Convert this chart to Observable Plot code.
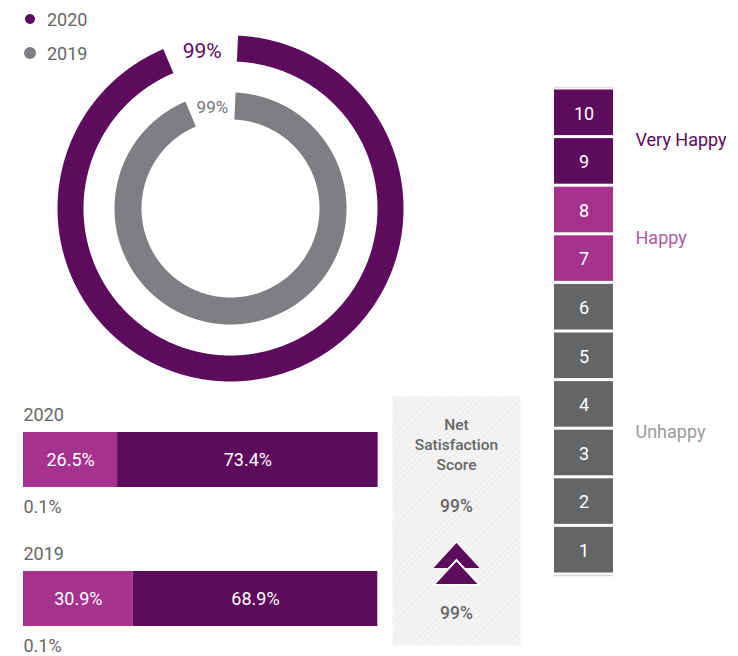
<!DOCTYPE html>
<html><head><meta charset="utf-8">
<script src="https://cdn.jsdelivr.net/npm/d3@7"></script>
<script src="https://cdn.jsdelivr.net/npm/@observablehq/plot@0.6"></script>
<style>
html,body{margin:0;padding:0;background:#fff;}
body{width:738px;height:656px;position:relative;overflow:hidden;font-family:Roboto,"Noto Sans",sans-serif;}
.p{position:absolute;}
.leg{position:absolute;display:flex;align-items:center;font-size:18px;color:#666;}
.leg .dot{border-radius:50%;display:inline-block;}
</style>
</head><body>
<script>
// ---- data ----
const years = ["2020", "2019"];
const yearColors = ["#5c0b5d", "#7e7f83"];
const satisfied = [99, 99];            // donut values (%)
const happyPct = [26.5, 30.9];
const veryHappyPct = [73.4, 68.9];
const unhappyPct = [0.1, 0.1];
const netScore = [99, 99];
const netLabel = "Net\nSatisfaction\nScore";
const scores = [10, 9, 8, 7, 6, 5, 4, 3, 2, 1];
const scoreGroups = ["Very Happy", "Very Happy", "Happy", "Happy", "Unhappy", "Unhappy", "Unhappy", "Unhappy", "Unhappy", "Unhappy"];
const groupNames = ["Very Happy", "Happy", "Unhappy"];
const groupColors = ["#5c0b5d", "#a5328c", "#646567"];
const groupLabelColors = ["#5c0b5d", "#b35aa5", "#9a9a9a"];

const FONT = "Roboto, 'Noto Sans', sans-serif";
const TXT = "#666";

function place(node, left, top) {
  const d = document.createElement("div");
  d.className = "p";
  d.style.left = left + "px";
  d.style.top = top + "px";
  d.appendChild(node);
  document.body.appendChild(d);
  return node;
}

// ---- legend ----
const legTops = [9, 43];
const legR = [5, 6];
years.forEach((y, i) => {
  const el = document.createElement("div");
  el.className = "leg";
  el.style.left = (30 - legR[i]) + "px";
  el.style.top = legTops[i] + "px";
  el.style.height = "20px";
  const dot = document.createElement("span");
  dot.className = "dot";
  dot.style.width = dot.style.height = (2 * legR[i]) + "px";
  dot.style.background = yearColors[i];
  dot.style.marginRight = (17 - legR[i]) + "px";
  el.appendChild(dot);
  el.appendChild(document.createTextNode(y));
  document.body.appendChild(el);
});

// ---- donut rings ----
const ringRadius = [160, 102.5];
const ringWidth = [26, 27];
const ringFont = [21, 17];
const ringTextColor = ["#5c0b5d", "#777"];
const arcStart = 2.5, sweep = 338; // degrees; 100% = full sweep
const deg = Math.PI / 180;
const ringMarks = [];
years.forEach((y, i) => {
  const end = arcStart + satisfied[i] / 100 * sweep;
  const pts = [];
  for (let a = arcStart; a < end; a += 0.5) pts.push(a);
  pts.push(end);
  const r = ringRadius[i];
  ringMarks.push(Plot.line(pts, {
    x: a => r * Math.sin(a * deg), y: a => r * Math.cos(a * deg),
    stroke: yearColors[i], strokeWidth: ringWidth[i], strokeLinecap: "butt", strokeLinejoin: "round", curve: "linear"
  }));
  const mid = (end + 360 + arcStart) / 2;
  ringMarks.push(Plot.text([satisfied[i]], {
    x: () => r * Math.sin(mid * deg), y: () => r * Math.cos(mid * deg),
    text: d => d + "%", fill: ringTextColor[i], fontSize: ringFont[i]
  }));
});
place(Plot.plot({
  width: 380, height: 380, margin: 0,
  style: {fontFamily: FONT, background: "transparent", overflow: "visible"},
  x: {domain: [-190, 190], range: [0, 380], axis: null},
  y: {domain: [-190, 190], range: [380, 0], axis: null},
  marks: ringMarks
}), 40, 18);

// ---- stacked bars ----
const segs = [];
years.forEach((y, i) => {
  segs.push({year: y, seg: "Happy", v: happyPct[i]});
  segs.push({year: y, seg: "Very Happy", v: veryHappyPct[i]});
});
const stackOrder = ["Happy", "Very Happy"];
place(Plot.plot({
  width: 390, height: 266, marginLeft: 23, marginRight: 12, marginTop: 0, marginBottom: 0,
  style: {fontFamily: FONT, background: "transparent", overflow: "visible"},
  x: {domain: [0, 100], axis: null},
  y: {type: "band", domain: years, range: [42, 237], paddingInner: 0.6071, paddingOuter: 0, align: 0, axis: null},
  color: {domain: groupNames, range: groupColors},
  marks: [
    Plot.barX(segs, Plot.stackX({x: "v", y: "year", fill: "seg", z: "seg", order: stackOrder})),
    Plot.text(segs, Plot.stackX({x: "v", y: "year", z: "seg", order: stackOrder, text: d => d.v.toFixed(1) + "%", fill: "white", fontSize: 18})),
    Plot.text(years, {y: d => d, frameAnchor: "left", textAnchor: "start", text: d => d, dy: -45, fill: TXT, fontSize: 18}),
    Plot.text(years, {y: d => d, frameAnchor: "left", textAnchor: "start", text: (d, i) => unhappyPct[i].toFixed(1) + "%", dy: 47, fill: TXT, fontSize: 18})
  ]
}), 0, 390);

// ---- net satisfaction box ----
const chevron = {
  draw(ctx, size) {
    const w = Math.sqrt(size / Math.PI);
    const h = w * 0.54;
    ctx.moveTo(0, -h); ctx.lineTo(w, h); ctx.lineTo(-w, h); ctx.closePath();
  }
};
const netSvg = Plot.plot({
  width: 128, height: 249, margin: 0,
  style: {fontFamily: FONT, background: "transparent", overflow: "visible"},
  marks: [
    Plot.frame({fill: "url(#hatch)", stroke: "none"}),
    Plot.text([netLabel], {frameAnchor: "top", lineAnchor: "top", text: d => d, dy: 19, lineHeight: 1.3, fontSize: 15.5, fontWeight: 500, fill: TXT}),
    Plot.text([netScore[0]], {frameAnchor: "top", lineAnchor: "middle", text: d => d + "%", dy: 110, fontSize: 17.5, fontWeight: 500, fill: TXT}),
    Plot.dot([netScore[0]], {frameAnchor: "top", dy: 159, symbol: chevron, r: 23, fill: "#5c0b5d", stroke: "none"}),
    Plot.dot([netScore[1]], {frameAnchor: "top", dy: 176, symbol: chevron, r: 23, fill: "#5c0b5d", stroke: "white", strokeWidth: 2}),
    Plot.text([netScore[1]], {frameAnchor: "top", lineAnchor: "middle", text: d => d + "%", dy: 217, fontSize: 17.5, fontWeight: 500, fill: TXT})
  ]
});
{
  const svg = d3.select(netSvg);
  const defs = svg.insert("defs", ":first-child");
  const pat = defs.append("pattern").attr("id", "hatch").attr("patternUnits", "userSpaceOnUse")
    .attr("width", 4).attr("height", 4).attr("patternTransform", "rotate(45)");
  pat.append("rect").attr("width", 4).attr("height", 4).attr("fill", "#f4f4f4");
  pat.append("line").attr("x1", 0).attr("y1", 0).attr("x2", 0).attr("y2", 4).attr("stroke", "#e7e7e7").attr("stroke-width", 1.2);
}
place(netSvg, 392, 396);

// ---- score scale ----
place(Plot.plot({
  width: 198, height: 500, margin: 0,
  style: {fontFamily: FONT, background: "transparent", overflow: "visible"},
  x: {domain: [0, 1], range: [14, 73], axis: null},
  y: {domain: [0.5, 10.5], range: [494, 8], axis: null},
  color: {domain: groupNames, range: groupColors},
  marks: [
    Plot.ruleY([10.5], {x1: () => 0, x2: () => 1, stroke: "#ead9e8", strokeWidth: 1.5, dy: -1}),
    Plot.ruleY([0.5], {x1: () => 0, x2: () => 1, stroke: "#d8d8d8", strokeWidth: 1.5, dy: 1}),
    Plot.rect(scores, {x1: () => 0, x2: () => 1, y1: d => d - 0.5, y2: d => d + 0.5, fill: (d, i) => scoreGroups[i], insetTop: 1.5, insetBottom: 1.5}),
    Plot.text(scores, {x: () => 0.5, y: d => d, text: d => String(d), fill: "white", fontSize: 18, dy: 1}),
    ...groupNames.map((g, i) => Plot.text([g], {
      x: () => 1, y: gg => d3.mean(scores.filter((s, j) => scoreGroups[j] === gg)),
      text: d => d, textAnchor: "start", dx: 22, dy: 3.5, fontSize: 18, fill: groupLabelColors[i]
    }))
  ]
}), 540, 80);
</script>
</body></html>
